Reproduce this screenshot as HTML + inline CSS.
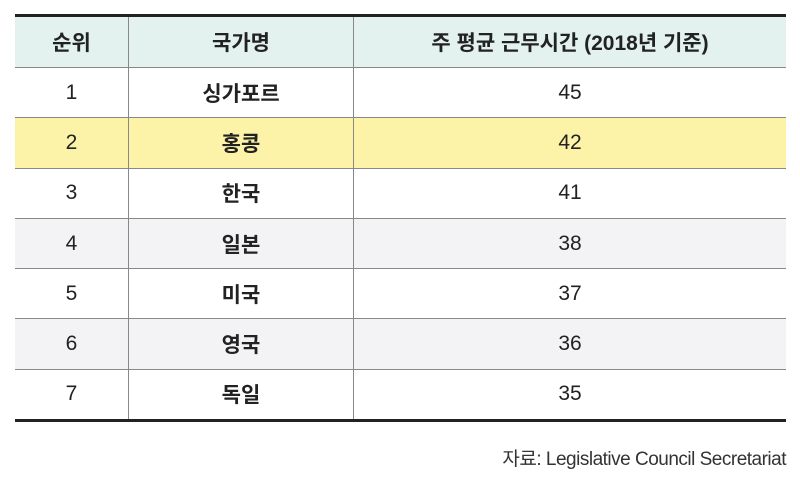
<!DOCTYPE html>
<html><head><meta charset="utf-8"><style>
body{margin:0;width:800px;height:493px;background:#fff;font-family:"Liberation Sans","Noto Sans CJK KR",sans-serif;position:relative;overflow:hidden}
table{position:absolute;left:15px;top:14px;width:771px;border-collapse:collapse;border-top:3px solid #222;border-bottom:3px solid #222}
td{height:49.3px;border-bottom:1px solid #888;text-align:center;font-size:21px;color:#222;padding:0}
td+td{border-left:1px solid #888}
tr:first-child td{background:#e3f2ee;font-weight:bold;height:50px}
td:nth-child(2){font-weight:bold}
tr.y td{background:#fdf3a8}
tr.g td{background:#f3f3f5}
tr:last-child td{border-bottom:none}
.src{position:absolute;right:14px;top:444px;font-size:19px;color:#333;letter-spacing:-0.5px}
</style></head><body>
<table>
<tr><td style="width:113px">순위</td><td style="width:224px">국가명</td><td>주 평균 근무시간 (2018년 기준)</td></tr>
<tr><td>1</td><td>싱가포르</td><td>45</td></tr>
<tr class="y"><td>2</td><td>홍콩</td><td>42</td></tr>
<tr><td>3</td><td>한국</td><td>41</td></tr>
<tr class="g"><td>4</td><td>일본</td><td>38</td></tr>
<tr><td>5</td><td>미국</td><td>37</td></tr>
<tr class="g"><td>6</td><td>영국</td><td>36</td></tr>
<tr><td>7</td><td>독일</td><td>35</td></tr>
</table>
<div class="src">자료: Legislative Council Secretariat</div>
</body></html>
